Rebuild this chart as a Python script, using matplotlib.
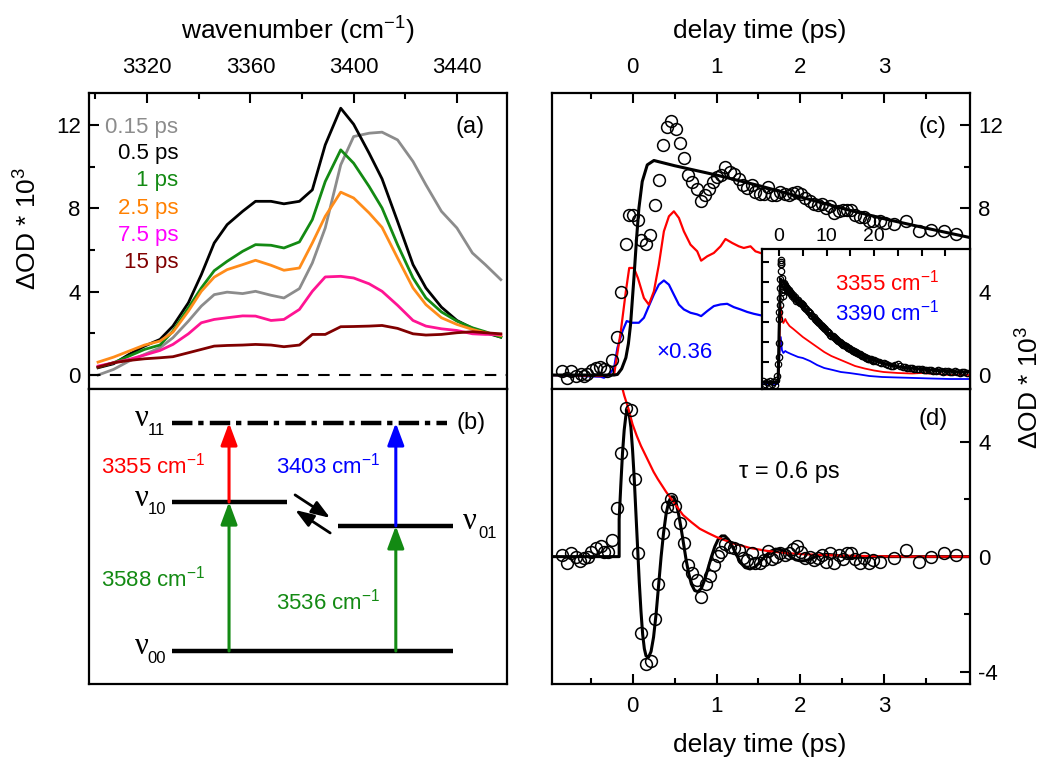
import numpy as np
import matplotlib
matplotlib.use('Agg')
import matplotlib.pyplot as plt
from matplotlib.ticker import MultipleLocator, FixedLocator

# ---------------- data ----------------
# (a) transient spectra
wavenumber = [3301, 3307, 3313, 3319, 3325, 3330, 3336, 3341, 3346, 3351, 3357, 3362, 3368, 3373, 3379,
              3384, 3389, 3395, 3400, 3406, 3411, 3417, 3423, 3428, 3434, 3440, 3446, 3451, 3457]
spec_015 = [0.00, 0.27, 0.67, 0.99, 1.31, 1.79, 2.59, 3.31, 3.86, 3.98, 3.91, 4.02, 3.83, 3.70, 4.15,
            5.38, 7.06, 10.09, 11.45, 11.61, 11.66, 11.29, 10.25, 9.13, 7.86, 7.06, 5.86, 5.30, 4.58]
spec_05 = [0.35, 0.54, 0.99, 1.39, 1.71, 2.35, 3.47, 4.82, 6.34, 7.22, 7.86, 8.34, 8.34, 8.22, 8.34,
           8.89, 11.05, 12.81, 12.04, 10.65, 9.42, 7.38, 5.30, 4.18, 3.26, 2.62, 2.24, 2.03, 1.82]
spec_1 = [0.38, 0.59, 0.91, 1.23, 1.44, 2.11, 3.23, 4.18, 5.01, 5.46, 5.94, 6.26, 6.23, 6.10, 6.39,
          7.46, 9.29, 10.81, 10.17, 9.05, 8.02, 6.26, 4.66, 3.70, 3.03, 2.59, 2.27, 2.08, 1.82]
spec_25 = [0.62, 0.86, 1.15, 1.44, 1.63, 2.06, 3.07, 4.02, 4.70, 5.06, 5.30, 5.51, 5.27, 5.03, 5.14,
           6.34, 7.62, 8.78, 8.50, 7.78, 7.09, 5.62, 4.18, 3.38, 2.75, 2.43, 2.19, 2.03, 1.90]
spec_75 = [0.43, 0.59, 0.75, 0.96, 1.18, 1.47, 1.98, 2.51, 2.67, 2.75, 2.84, 2.83, 2.62, 2.67, 3.15,
           4.02, 4.71, 4.74, 4.66, 4.38, 4.02, 3.35, 2.62, 2.35, 2.22, 2.14, 1.98, 1.95, 1.95]
spec_15 = [0.38, 0.59, 0.70, 0.78, 0.83, 0.88, 1.07, 1.23, 1.39, 1.42, 1.44, 1.47, 1.44, 1.36, 1.44,
           1.95, 1.95, 2.32, 2.33, 2.35, 2.38, 2.24, 1.98, 1.92, 1.95, 2.03, 2.08, 2.03, 1.98]
delay_labels = ['0.15 ps', '0.5 ps', '1 ps', '2.5 ps', '7.5 ps', '15 ps']
line_colors = ['#8c8c8c', '#000000', '#138a13', '#ff8c1a', '#ff1493', '#800000']
text_colors = ['#8c8c8c', '#000000', '#138a13', '#ff8000', '#ff00ff', '#800000']

# (b) level scheme (schematic positions)
level_sub = ['00', '10', '01', '11']
level_y = [0.112, 0.617, 0.536, 0.885]
level_x0 = [0.199, 0.199, 0.596, 0.199]
level_x1 = [0.871, 0.474, 0.871, 0.857]
trans_x = [0.335, 0.335, 0.734, 0.734]
trans_from = [0.112, 0.617, 0.112, 0.536]
trans_to = [0.617, 0.885, 0.536, 0.885]
trans_color = ['#138a13', '#ff0000', '#138a13', '#0000ff']
trans_wn = ['3588', '3355', '3536', '3403']
trans_lx = [0.153, 0.153, 0.572, 0.572]
trans_ly = [0.359, 0.742, 0.278, 0.742]

# (c) kinetics
c_t = [-0.837, -0.778, -0.738, -0.679, -0.619, -0.579, -0.540, -0.480, -0.440, -0.389, -0.341, -0.302,
       -0.242, -0.183, -0.135, -0.083, -0.044, 0.008, 0.063, 0.103, 0.155, 0.206,
       0.262, 0.313, 0.365, 0.413, 0.460, 0.512, 0.563, 0.611,
       0.659, 0.710, 0.762, 0.817, 0.857, 0.909, 0.960, 1.008,
       1.056, 1.107, 1.159, 1.206, 1.266, 1.317, 1.365, 1.417,
       1.464, 1.516, 1.563, 1.611, 1.663, 1.714, 1.762, 1.810,
       1.861, 1.913, 1.960, 2.008, 2.060, 2.111, 2.159, 2.206,
       2.258, 2.310, 2.357, 2.405, 2.456, 2.508, 2.556, 2.603,
       2.655, 2.706, 2.762, 2.813, 2.865,
       2.952, 3.012, 3.111, 3.262, 3.409, 3.556, 3.706, 3.857]
c_val = [0.19, -0.16, 0.19, -0.05, 0.03, -0.05, 0.06, 0.22, 0.35, 0.38, 0.27, 0.19,
         0.70, 1.84, 3.98, 6.29, 7.70, 7.67, 7.46, 6.50, 6.29, 6.74,
         8.18, 9.37, 11.05, 11.93, 12.20, 11.82, 11.16, 10.44,
         9.58, 9.26, 8.94, 8.34, 8.66, 8.93, 9.26, 9.49,
         9.61, 10.01, 9.74, 9.64, 9.42, 9.10, 8.97, 9.10,
         8.81, 8.69, 8.69, 9.01, 8.66, 8.66, 8.81, 8.69,
         8.66, 8.74, 8.78, 8.69, 8.50, 8.34, 8.21, 8.18,
         8.21, 8.02, 8.10, 7.78, 7.89, 7.94, 7.94, 7.90,
         7.70, 7.57, 7.57, 7.41, 7.38,
         7.41, 7.30, 7.25, 7.41, 6.93, 6.98, 6.93, 6.77]
c_fit_t = [-0.96, -0.22, -0.18, -0.13, -0.08, -0.05, -0.024, 0.016, 0.048, 0.075, 0.115, 0.175, 0.254,
           0.5, 1.0, 1.5, 2.0, 2.5, 3.0, 3.5, 4.02]
c_fit_v = [0, 0, 0.03, 0.3, 0.83, 1.5, 2.43, 4.66, 6.58, 8.0, 9.29, 10.09, 10.3,
           10.05, 9.6, 9.1, 8.55, 8.0, 7.5, 7.05, 6.6]
c_red_t = [-0.96, -0.38, -0.22, -0.14, -0.08, -0.04, 0.016, 0.063, 0.135, 0.194, 0.254, 0.313, 0.373,
           0.433, 0.492, 0.552, 0.611, 0.690, 0.770, 0.817, 0.889, 0.968, 1.048, 1.107, 1.187, 1.266,
           1.325, 1.405, 1.464, 1.524, 1.643]
c_red_v = [0.0, -0.05, 0.03, 2.11, 4.02, 5.14, 5.14, 4.66, 3.70, 3.38, 4.02, 5.30, 6.90,
           7.62, 7.86, 7.54, 6.90, 6.26, 5.94, 5.49, 5.70, 5.86, 6.18, 6.53, 6.34, 6.18,
           6.10, 6.18, 5.94, 5.86, 5.7]
c_blue_t = [-0.96, -0.38, -0.34, -0.28, -0.22, -0.18, -0.12, -0.07, -0.004, 0.075, 0.135, 0.194, 0.254,
            0.313, 0.373, 0.433, 0.492, 0.552, 0.611, 0.690, 0.770, 0.817, 0.889, 0.968, 1.048, 1.127,
            1.206, 1.286, 1.365, 1.444, 1.524, 1.643]
c_blue_v = [0.0, -0.08, -0.13, 0.03, 0.35, 1.31, 2.11, 2.59, 2.51, 2.51, 2.75, 3.31, 3.87,
            4.34, 4.54, 4.34, 3.86, 3.38, 3.15, 2.99, 2.91, 2.83, 3.07, 3.31, 3.39, 3.42,
            3.26, 3.15, 3.03, 2.94, 2.87, 2.8]

# inset (long delays)
in_t = [-3.3, -3.0, -2.6, -2.2, -1.9, -1.5, -1.2, -0.9, -0.6, -0.4, -0.2, -0.1, -0.05, 0.0, 0.05, 0.1,
        0.15, 0.2, 0.25, 0.3, 0.35, 0.4, 0.45, 0.5, 0.6, 0.7, 0.8, 0.9, 1.0, 1.1, 1.2, 1.3, 1.4, 1.5,
        1.6, 1.7, 1.8, 1.9, 2.0, 2.15, 2.3, 2.45, 2.6, 2.8, 3.0, 3.2, 3.4, 3.6, 3.8, 4.0, 4.2, 4.4,
        4.6, 4.8, 5.0, 5.25, 5.5, 5.75, 6.0, 6.25, 6.5, 6.75, 7.0, 7.25, 7.5, 7.75, 8.0, 8.25, 8.5,
        8.75, 9.0, 9.25, 9.5, 9.75, 10.0, 10.25, 10.5, 10.75, 11.0, 11.25, 11.5, 11.75, 12.0, 12.25,
        12.5, 12.75, 13.0, 13.25, 13.5, 13.75, 14.0, 14.25, 14.5, 14.75, 15.0, 15.25, 15.5, 15.75,
        16.0, 16.25, 16.5, 16.75, 17.0, 17.25, 17.5, 17.75, 18.0, 18.25, 18.5, 18.75, 19.0, 19.25,
        19.5, 19.75, 20.0, 20.5, 21.0, 21.5, 22.0, 22.5, 23.0, 23.5, 24.0, 24.5, 25.0, 25.5, 26.0,
        26.5, 27.0, 27.5, 28.0, 28.5, 29.0, 29.5, 30.0, 30.5, 31.0, 31.5, 32.0, 32.5, 33.0, 33.5,
        34.0, 34.5, 35.0, 35.5, 36.0, 36.5, 37.0, 37.5, 38.0, 38.5, 39.0, 39.5]
in_val = [0.1, -0.2, 0.0, -0.3, 0.1, -0.2, 0.0, -0.3, 0.2, 0.6, 1.8, 3.9, 2.5, 6.3, 7.0, 7.7,
          8.4, 9.4, 10.3, 11.1, 11.8, 12.2, 12.0, 11.8, 10.4, 9.0, 8.6, 9.3, 9.8, 9.9, 9.7, 9.6, 9.5, 9.4,
          9.4, 9.3, 9.2, 9.1, 9.2, 9.0, 9.0, 8.9, 8.8, 8.6, 8.7, 8.4, 8.5, 8.1, 8.2, 8.2, 8.0, 7.9,
          7.9, 7.8, 7.7, 7.5, 7.4, 7.3, 7.1, 7.0, 6.9, 6.7, 6.6, 6.5, 6.3, 6.2, 6.1, 6.0, 5.9,
          5.7, 5.6, 5.5, 5.4, 5.3, 5.1, 5.0, 4.9, 4.7, 4.6, 4.6, 4.5, 4.4, 4.3, 4.2,
          4.1, 4.0, 3.9, 3.8, 3.7, 3.7, 3.6, 3.5, 3.4, 3.4, 3.3, 3.2, 3.1, 3.1,
          3.0, 3.0, 2.9, 2.8, 2.8, 2.7, 2.6, 2.6, 2.5, 2.4, 2.4, 2.3, 2.3, 2.3,
          2.2, 2.1, 2.2, 2.1, 2.0, 1.9, 1.9, 1.8, 1.7, 1.6, 1.6, 1.7, 1.8, 1.6, 1.5,
          1.5, 1.4, 1.4, 1.4, 1.3, 1.3, 1.3, 1.3, 1.2, 1.2, 1.2, 1.2, 1.1, 1.1, 1.2,
          1.1, 1.0, 1.1, 1.1, 1.0, 1.0, 1.1, 1.0, 0.9, 1.0, 1.0, 0.9]
in_fit_t = [-3.8, -0.2, 0.0, 0.3, 1.0, 2.0, 3.0, 4.4, 6.0, 7.9, 9.5, 11.3, 13.0, 14.8, 16.5, 18.3, 20.0,
            21.7, 23.5, 25.2, 28.7, 32.0, 35.0, 38.4, 40.0]
in_fit_v = [0, 0, 5.0, 10.3, 9.9, 9.2, 8.6, 8.0, 7.0, 6.2, 5.3, 4.5, 3.9, 3.4, 2.9, 2.5, 2.2,
            1.9, 1.7, 1.5, 1.35, 1.2, 1.1, 1.0, 1.0]
in_red_t = [-3.8, -0.3, -0.1, 0.1, 0.2, 0.35, 0.6, 0.9, 1.3, 1.6, 2.2, 3.0, 4.0, 5.0, 6.5, 8.0, 9.5,
            11.0, 12.5, 14.0, 16.0, 18.0, 20.0, 22.0, 25.0, 28.0, 30.0, 33.0, 36.0, 40.0]
in_red_v = [0, 0, 1.0, 4.0, 7.0, 7.5, 6.2, 5.9, 6.3, 6.0, 5.6, 5.3, 4.9, 4.5, 4.0, 3.5, 3.0,
            2.6, 2.3, 2.0, 1.6, 1.35, 1.15, 1.0, 0.9, 0.85, 0.9, 0.8, 0.7, 0.7]
in_blue_t = [-3.8, -0.3, -0.1, 0.1, 0.35, 0.6, 0.9, 1.3, 1.6, 2.5, 4.0, 5.0, 6.5, 8.0, 9.5, 11.3,
             13.0, 14.8, 17.0, 19.0, 21.7, 25.0, 28.7, 32.0, 36.0, 40.0]
in_blue_v = [-0.2, -0.2, 1.0, 3.0, 4.5, 3.2, 2.9, 3.1, 3.0, 2.8, 2.5, 2.4, 2.1, 1.7, 1.4, 1.2,
             1.0, 0.9, 0.75, 0.6, 0.5, 0.45, 0.4, 0.35, 0.3, 0.3]

# (d) oscillatory residual
d_t = [-0.837, -0.786, -0.730, -0.679, -0.627, -0.579, -0.532, -0.492, -0.440, -0.381, -0.341, -0.294,
       -0.242, -0.183, -0.135, -0.083, -0.024, 0.024, 0.063, 0.103, 0.155, 0.214,
       0.262, 0.302, 0.365, 0.413, 0.460, 0.504, 0.563, 0.611,
       0.659, 0.710, 0.762, 0.817, 0.869, 0.921, 0.968, 1.016,
       1.056, 1.107, 1.159, 1.206, 1.266, 1.317, 1.365, 1.417,
       1.464, 1.516, 1.563, 1.611, 1.663, 1.714, 1.762, 1.810,
       1.861, 1.913, 1.960, 2.008, 2.060, 2.111, 2.159, 2.206,
       2.258, 2.310, 2.357, 2.405, 2.456, 2.508, 2.556, 2.603,
       2.655, 2.706, 2.762, 2.813, 2.865,
       2.952, 3.111, 3.262, 3.409, 3.556, 3.706, 3.857]
d_val = [0.06, -0.23, 0.12, 0.00, -0.14, -0.06, -0.02, 0.17, 0.29, 0.37, 0.17, 0.17,
         0.58, 1.70, 3.59, 5.17, 5.09, 2.71, 0.14, -2.67, -3.74, -3.63,
         -2.16, -0.96, 0.82, 1.73, 2.01, 1.75, 1.17, 0.49,
         -0.29, -0.58, -0.80, -1.40, -0.94, -0.68, -0.29, 0.02,
         0.17, 0.44, 0.35, 0.29, 0.23, -0.06, -0.12, 0.12,
         -0.21, -0.21, -0.12, 0.21, -0.09, 0.00, 0.12, 0.06,
         0.12, 0.26, 0.37, 0.17, -0.06, 0.00, -0.12, -0.06,
         0.06, -0.18, 0.12, -0.21, 0.06, -0.09, 0.12, 0.14,
         -0.09, -0.23, -0.06, -0.21, -0.12,
         -0.18, -0.06, 0.23, -0.18, -0.02, 0.12, 0.06]
d_fit_t = [-0.96, -0.16, -0.16, -0.14, -0.12, -0.10, -0.08, -0.06, -0.04, -0.02,
           0.0, 0.02, 0.04, 0.06, 0.08, 0.10, 0.12, 0.14, 0.16, 0.19,
           0.22, 0.25, 0.28, 0.31, 0.34, 0.37, 0.40, 0.43, 0.46, 0.49,
           0.52, 0.55, 0.58, 0.61, 0.64, 0.67, 0.70, 0.74, 0.78, 0.82,
           0.86, 0.90, 0.94, 0.98, 1.02, 1.06, 1.10, 1.14, 1.19, 1.24,
           1.29, 1.34, 1.40, 1.46, 1.52, 1.58, 1.64, 1.70, 1.76, 1.82,
           1.88, 1.94, 2.00, 2.06, 2.12, 2.20, 2.30, 2.40, 2.50, 2.60,
           2.80, 4.02]
d_fit_v = [0, 0, 1.3, 2.5, 3.6, 4.4, 4.9, 5.1, 4.95, 4.5,
           3.7, 2.7, 1.5, 0.3, -0.9, -1.9, -2.7, -3.2, -3.45, -3.5,
           -3.3, -2.8, -2.0, -1.0, 0.0, 0.85, 1.5, 1.9, 2.08, 2.08,
           1.85, 1.45, 0.95, 0.4, -0.15, -0.6, -0.95, -1.18, -1.22, -1.1,
           -0.8, -0.4, 0.0, 0.35, 0.6, 0.72, 0.72, 0.6, 0.35, 0.05,
           -0.22, -0.38, -0.43, -0.36, -0.18, 0.02, 0.18, 0.26, 0.25, 0.15,
           0.0, -0.11, -0.15, -0.14, -0.08, 0.02, 0.08, 0.06, 0.0, -0.03,
           0.0, 0.0]
d_env_t = [-0.13, -0.10, -0.05, 0.0, 0.05, 0.10, 0.15, 0.20, 0.25, 0.30, 0.40, 0.50, 0.60, 0.70,
           0.80, 0.90, 1.00, 1.20, 1.40, 1.60, 1.80, 2.00, 2.30, 2.60, 3.00, 3.50, 4.02]
d_env_v = [5.95, 5.61, 5.15, 4.6, 4.2, 3.85, 3.55, 3.25, 2.95, 2.7, 2.25, 1.85, 1.45, 1.2,
           0.97, 0.82, 0.68, 0.46, 0.30, 0.20, 0.13, 0.09, 0.05, 0.03, 0.01, 0.0, 0.0]

delay_major = [0, 1, 2, 3]
delay_minor = [-0.5, 0.5, 1.5, 2.5, 3.5]

# ---------------- style ----------------
plt.rcParams['font.family'] = ['Liberation Sans', 'DejaVu Sans']
plt.rcParams['font.size'] = 16
plt.rcParams['mathtext.fontset'] = 'custom'
plt.rcParams['mathtext.rm'] = 'Liberation Sans'
plt.rcParams['mathtext.it'] = 'Liberation Sans:italic'
plt.rcParams['mathtext.bf'] = 'Liberation Sans:bold'
plt.rcParams['axes.unicode_minus'] = False
plt.rcParams['axes.linewidth'] = 1.6
for ax_ in ('xtick', 'ytick'):
    plt.rcParams[ax_ + '.direction'] = 'in'
    plt.rcParams[ax_ + '.major.size'] = 7
    plt.rcParams[ax_ + '.minor.size'] = 4.5
    plt.rcParams[ax_ + '.major.width'] = 1.5
    plt.rcParams[ax_ + '.minor.width'] = 1.5

fig = plt.figure(figsize=(10.45, 7.6), dpi=100)
L, W = 89 / 1045, 418 / 1045
R0 = 552 / 1045
TB, TH = 1 - 389 / 760, 296 / 760
BB, BH = 1 - 684 / 760, 295 / 760
axa = fig.add_axes([L, TB, W, TH])
axb = fig.add_axes([L, BB, W, BH])
axc = fig.add_axes([R0, TB, W, TH])
axd = fig.add_axes([R0, BB, W, BH])
axi = fig.add_axes([762 / 1045, TB, 208 / 1045, 140 / 760])

TXT = 16

# ---- (a)
spectra = [spec_015, spec_05, spec_1, spec_25, spec_75, spec_15]
for s, c in zip(spectra, line_colors):
    axa.plot(wavenumber, s, color=c, lw=2.0)
axa.axhline(0, color='k', lw=1.5, ls=(0, (5.5, 4.5)))
axa.set_xlim(3297.5, 3459.4)
axa.set_ylim(-0.67, 13.54)
axa.xaxis.set_major_locator(MultipleLocator(40))
axa.xaxis.set_minor_locator(MultipleLocator(20))
axa.yaxis.set_major_locator(MultipleLocator(4))
axa.yaxis.set_minor_locator(MultipleLocator(2))
axa.tick_params(axis='x', which='both', top=True, bottom=False, labeltop=True, labelbottom=False, pad=11)
axa.tick_params(axis='y', which='both', left=True, right=False, pad=6)
legend_y = [0.885, 0.794, 0.703, 0.611, 0.517, 0.426]
for lab, c, yy in zip(delay_labels, text_colors, legend_y):
    axa.text(0.213, yy, lab, color=c, ha='right', va='center', fontsize=TXT, transform=axa.transAxes)
axa.text(0.911, 0.885, '(a)', ha='center', va='center', fontsize=TXT + 1, transform=axa.transAxes)

# ---- (b)
axb.set_xlim(0, 1)
axb.set_ylim(0, 1)
axb.set_xticks([])
axb.set_yticks([])
for sub, y, x0, x1 in zip(level_sub, level_y, level_x0, level_x1):
    if sub == '11':
        axb.plot([x0, x1], [y, y], color='k', lw=3.2, ls=(0, (4.6, 1.3, 1.2, 1.4)))
    else:
        axb.plot([x0, x1], [y, y], color='k', lw=3.2, solid_capstyle='butt')
    if sub == '01':
        axb.text(0.895, y - 0.012, 'ν', family='Liberation Serif', fontsize=22, ha='left', va='baseline')
        axb.text(0.932, y - 0.04, sub, fontsize=12, ha='left', va='baseline')
    else:
        axb.text(0.142, y - 0.012, 'ν', family='Liberation Serif', fontsize=22, ha='right', va='baseline')
        axb.text(0.140, y - 0.04, sub, fontsize=12, ha='left', va='baseline')
for x, y0, y1, c, wn_, lx, ly in zip(trans_x, trans_from, trans_to, trans_color, trans_wn, trans_lx, trans_ly):
    axb.annotate('', xy=(x, y1), xytext=(x, y0),
                 arrowprops=dict(arrowstyle='-|>,head_length=0.75,head_width=0.28', color=c, lw=2.2,
                                 shrinkA=0, shrinkB=0, mutation_scale=18))
    axb.text(lx, ly, wn_ + ' cm$^{-1}$', color=c, ha='center', va='center', fontsize=TXT)
axb.annotate('', xy=(0.577, 0.563), xytext=(0.493, 0.641),
             arrowprops=dict(arrowstyle='-|>,head_length=0.7,head_width=0.25', color='k', lw=2,
                             shrinkA=0, shrinkB=0, mutation_scale=16))
axb.annotate('', xy=(0.493, 0.590), xytext=(0.577, 0.512),
             arrowprops=dict(arrowstyle='-|>,head_length=0.7,head_width=0.25', color='k', lw=2,
                             shrinkA=0, shrinkB=0, mutation_scale=16))
axb.text(0.914, 0.885, '(b)', ha='center', va='center', fontsize=TXT + 1)

# ---- (c)
axc.plot(c_blue_t, c_blue_v, color='#0000ff', lw=1.6)
axc.plot(c_red_t, c_red_v, color='#ff0000', lw=1.6)
axc.plot(c_fit_t, c_fit_v, color='k', lw=2.2)
axc.plot(c_t, c_val, 'o', mfc='none', mec='k', mew=1.1, ms=8.5)
axc.set_xlim(-0.96, 4.02)
axc.set_ylim(-0.67, 13.54)
axc.xaxis.set_major_locator(FixedLocator(delay_major))
axc.xaxis.set_minor_locator(FixedLocator(delay_minor))
axc.yaxis.set_major_locator(MultipleLocator(4))
axc.yaxis.set_minor_locator(MultipleLocator(2))
axc.tick_params(axis='x', which='both', top=True, bottom=False, labeltop=True, labelbottom=False, pad=11)
axc.tick_params(axis='y', which='both', left=False, right=True, labelleft=False, labelright=True, pad=6)
axc.text(0.911, 0.885, '(c)', ha='center', va='center', fontsize=TXT + 1, transform=axc.transAxes)
axc.text(0.316, 0.122, '×0.36', color='#0000ff', ha='center', va='center', fontsize=TXT, transform=axc.transAxes)

# inset
axi.set_facecolor('white')
axi.plot(in_blue_t, in_blue_v, color='#0000ff', lw=1.3)
axi.plot(in_red_t, in_red_v, color='#ff0000', lw=1.3)
axi.plot(in_fit_t, in_fit_v, color='k', lw=2.2)
axi.plot(in_t, in_val, 'o', mfc='none', mec='k', mew=0.9, ms=4.6)
axi.set_xlim(-3.6, 40.2)
axi.set_ylim(-0.7, 13.3)
axi.xaxis.set_major_locator(FixedLocator([0, 10, 20]))
axi.xaxis.set_minor_locator(FixedLocator([5, 15, 25, 30, 35]))
axi.yaxis.set_major_locator(MultipleLocator(2))
axi.tick_params(axis='x', which='both', top=True, bottom=False, labeltop=True, labelbottom=False,
                labelsize=14, pad=3, length=5)
axi.tick_params(axis='y', which='both', left=True, right=False, labelleft=False, length=5)
axi.text(0.351, 0.757, '3355 cm$^{-1}$', color='#ff0000', ha='left', va='center', fontsize=TXT,
         transform=axi.transAxes)
axi.text(0.351, 0.543, '3390 cm$^{-1}$', color='#0000ff', ha='left', va='center', fontsize=TXT,
         transform=axi.transAxes)

# ---- (d)
axd.plot(d_fit_t, d_fit_v, color='k', lw=2.2)
axd.plot(d_env_t, d_env_v, color='#ff0000', lw=1.6)
axd.plot(d_t, d_val, 'o', mfc='none', mec='k', mew=1.1, ms=8.5)
axd.set_xlim(-0.96, 4.02)
axd.set_ylim(-4.43, 5.83)
axd.xaxis.set_major_locator(FixedLocator(delay_major))
axd.xaxis.set_minor_locator(FixedLocator(delay_minor))
axd.yaxis.set_major_locator(MultipleLocator(4))
axd.yaxis.set_minor_locator(MultipleLocator(2))
axd.tick_params(axis='x', which='both', top=False, bottom=True, pad=9)
axd.tick_params(axis='y', which='both', left=False, right=True, labelleft=False, labelright=True, pad=6)
axd.text(0.911, 0.90, '(d)', ha='center', va='center', fontsize=TXT + 1, transform=axd.transAxes)
axd.text(0.567, 0.719, 'τ = 0.6 ps', ha='center', va='center', fontsize=TXT + 1, transform=axd.transAxes)

# ---- axis titles
TT = 19
fig.text(0.285, 0.959, 'wavenumber (cm$^{-1}$)', ha='center', va='center', fontsize=TT)
fig.text(0.727, 0.959, 'delay time (ps)', ha='center', va='center', fontsize=TT)
fig.text(0.727, 0.020, 'delay time (ps)', ha='center', va='center', fontsize=TT)
fig.text(0.027, 0.70, 'ΔOD * 10$^{3}$', ha='center', va='center', rotation=90, fontsize=TT)
fig.text(0.986, 0.49, 'ΔOD * 10$^{3}$', ha='center', va='center', rotation=90, fontsize=TT)

fig.savefig('out.png', dpi=100)
